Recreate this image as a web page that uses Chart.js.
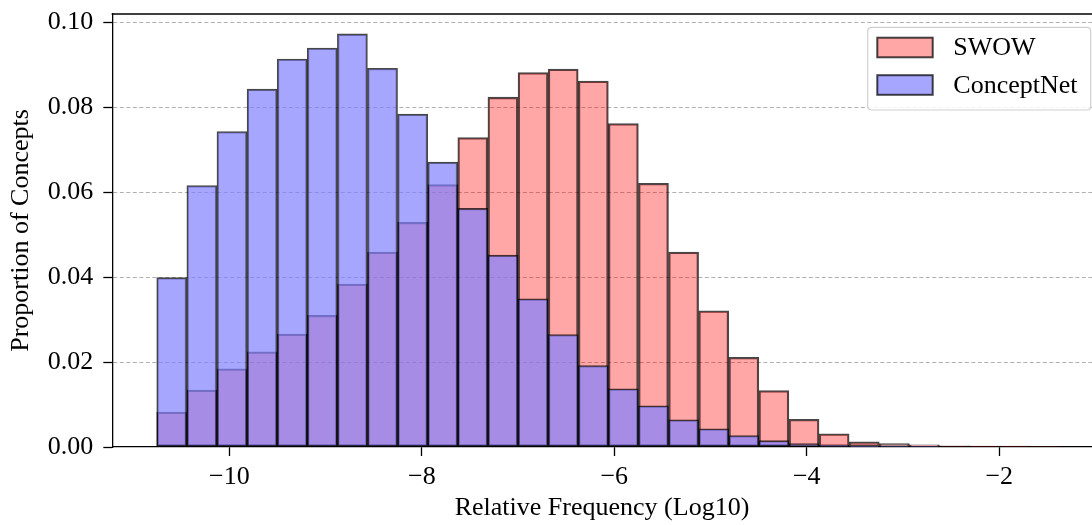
<!DOCTYPE html>
<html>
<head>
<meta charset="utf-8">
<script src="https://cdn.jsdelivr.net/npm/chart.js@4.4.1/dist/chart.umd.min.js"></script>
<style>
  html, body { margin: 0; padding: 0; background: #ffffff; overflow: hidden; }
  #wrap { width: 1092px; height: 525px; overflow: hidden; }
  canvas { display: block; }
</style>
</head>
<body>
<div id="wrap"><canvas id="hist" width="1110" height="525"></canvas></div>
<script>
// Bin centres of the 30 shared histogram bins (log10 relative frequency)
const binCenters = [
  -10.598, -10.285, -9.972, -9.659, -9.346, -9.034, -8.721, -8.408, -8.095, -7.782,
  -7.470, -7.157, -6.844, -6.531, -6.218, -5.906, -5.593, -5.280, -4.967, -4.654,
  -4.342, -4.029, -3.716, -3.403, -3.090, -2.778, -2.465, -2.152, -1.839, -1.526
];

// Proportion of concepts in each bin
const swowValues = [
  0.0082, 0.0134, 0.0184, 0.0224, 0.0266, 0.0310, 0.0384, 0.0459, 0.0529, 0.0618,
  0.0729, 0.0824, 0.0882, 0.0890, 0.0862, 0.0762, 0.0621, 0.0459, 0.0321, 0.0211,
  0.0133, 0.0065, 0.0031, 0.0012, 0.0008, 0.0005, 0.0003, 0.0002, 0.0002, 0.0001
];
const conceptNetValues = [
  0.0399, 0.0616, 0.0743, 0.0843, 0.0914, 0.0940, 0.0973, 0.0892, 0.0784, 0.0671,
  0.0562, 0.0452, 0.0349, 0.0265, 0.0192, 0.0137, 0.0097, 0.0064, 0.0043, 0.0027,
  0.0015, 0.0008, 0.0004, 0.0002, 0.0001, 0.0001, 0, 0, 0, 0
];

const seriesLabels = ['SWOW', 'ConceptNet'];
const xTickValues = [-10, -8, -6, -4, -2];
const yTickValues = [0, 0.02, 0.04, 0.06, 0.08, 0.10];
const xTitle = 'Relative Frequency (Log10)';

const FONT = "'Liberation Serif', 'Times New Roman', 'DejaVu Serif', serif";
Chart.defaults.font.family = FONT;
Chart.defaults.color = '#000000';

const toPoints = (vals) => vals.map((v, i) => ({ x: binCenters[i], y: v }));
const minus = (v) => (v < 0 ? '\u2212' + Math.abs(v) : String(v));

// Top spine of the axes frame and the x-axis caption below the tick labels
const frameExtras = {
  id: 'frameExtras',
  afterDraw(chart) {
    const { ctx, chartArea } = chart;
    ctx.save();
    ctx.strokeStyle = '#000000';
    ctx.lineWidth = 1.3;
    ctx.beginPath();
    ctx.moveTo(chartArea.left - 0.65, chartArea.top);
    ctx.lineTo(chartArea.right, chartArea.top);
    ctx.stroke();

    ctx.fillStyle = '#000000';
    ctx.font = '26px ' + FONT;
    ctx.textAlign = 'center';
    ctx.textBaseline = 'alphabetic';
    ctx.fillText(xTitle, 602, 515);
    ctx.restore();
  }
};

// Boxed legend in the upper right corner of the plot
const boxLegend = {
  id: 'boxLegend',
  afterDraw(chart) {
    const { ctx } = chart;
    const bx = 867.7, by = 27.3, bw = 223, bh = 82.7, r = 4;
    ctx.save();
    ctx.beginPath();
    ctx.moveTo(bx + r, by);
    ctx.lineTo(bx + bw - r, by);
    ctx.quadraticCurveTo(bx + bw, by, bx + bw, by + r);
    ctx.lineTo(bx + bw, by + bh - r);
    ctx.quadraticCurveTo(bx + bw, by + bh, bx + bw - r, by + bh);
    ctx.lineTo(bx + r, by + bh);
    ctx.quadraticCurveTo(bx, by + bh, bx, by + bh - r);
    ctx.lineTo(bx, by + r);
    ctx.quadraticCurveTo(bx, by, bx + r, by);
    ctx.closePath();
    ctx.fillStyle = 'rgba(255,255,255,0.85)';
    ctx.fill();
    ctx.strokeStyle = '#d0d0d0';
    ctx.lineWidth = 1.2;
    ctx.stroke();

    const rows = [47.5, 85];
    chart.data.datasets.forEach((ds, i) => {
      const cy = rows[i];
      ctx.fillStyle = '#ffffff';
      ctx.fillRect(877.3, cy - 9.8, 55.4, 19.6);
      ctx.fillStyle = ds.backgroundColor;
      ctx.fillRect(877.3, cy - 9.8, 55.4, 19.6);
      ctx.strokeStyle = ds.borderColor;
      ctx.lineWidth = 2;
      ctx.strokeRect(877.3, cy - 9.8, 55.4, 19.6);
      ctx.fillStyle = '#000000';
      ctx.font = '26px ' + FONT;
      ctx.textAlign = 'left';
      ctx.textBaseline = 'middle';
      ctx.fillText(ds.label, 953.3, cy + 1);
    });
    ctx.restore();
  }
};

new Chart(document.getElementById('hist'), {
  type: 'bar',
  data: {
    datasets: [
      {
        label: seriesLabels[0],
        data: toPoints(swowValues),
        backgroundColor: 'rgba(255,0,0,0.35)',
        borderColor: 'rgba(0,0,0,0.72)',
        borderWidth: 1.6,
        borderSkipped: false,
        order: 2
      },
      {
        label: seriesLabels[1],
        data: toPoints(conceptNetValues),
        backgroundColor: 'rgba(128,128,255,0.7)',
        borderColor: 'rgba(0,0,0,0.72)',
        borderWidth: 1.6,
        borderSkipped: false,
        order: 1
      }
    ]
  },
  options: {
    responsive: false,
    animation: false,
    devicePixelRatio: 1,
    grouped: false,
    barPercentage: 1,
    categoryPercentage: 1,
    layout: { padding: { top: 14, right: 5, bottom: 0, left: 0 } },
    plugins: {
      legend: { display: false },
      tooltip: { enabled: false }
    },
    scales: {
      x: {
        type: 'linear',
        min: -11.2156,
        max: -0.9016,
        offset: false,
        z: 1,
        afterBuildTicks(scale) {
          scale.ticks = xTickValues.map(v => ({ value: v }));
        },
        afterFit(scale) {
          scale.height = 78;
          scale.paddingLeft = 0;
          scale.paddingRight = 0;
        },
        ticks: {
          font: { size: 26, lineHeight: 1.2 },
          color: '#000000',
          padding: 6,
          maxRotation: 0,
          autoSkip: false,
          callback: (v) => minus(v)
        },
        grid: {
          offset: false,
          drawOnChartArea: false,
          drawTicks: true,
          tickLength: 9,
          tickColor: '#000000',
          tickWidth: 1.3
        },
        border: { display: true, color: '#000000', width: 1.3 },
        title: { display: false }
      },
      y: {
        type: 'linear',
        min: 0,
        max: 0.102,
        z: 1,
        afterBuildTicks(scale) {
          scale.ticks = yTickValues.map(v => ({ value: v }));
        },
        afterFit(scale) {
          scale.width = 112.3;
          scale.paddingTop = 0;
          scale.paddingBottom = 0;
        },
        ticks: {
          font: { size: 26, lineHeight: 1.2 },
          color: '#000000',
          padding: 10,
          callback: (v) => Number(v).toFixed(2)
        },
        grid: {
          drawOnChartArea: true,
          drawTicks: true,
          tickLength: 9,
          color: (ctx) => (ctx.tick && ctx.tick.value === 0 ? 'rgba(0,0,0,0)' : '#b0b0b0'),
          lineWidth: 1,
          tickColor: '#000000',
          tickWidth: 1.3,
          tickBorderDash: []
        },
        border: { display: true, color: '#000000', width: 1.3, dash: [4, 2.5] },
        title: {
          display: true,
          text: 'Proportion of Concepts',
          font: { size: 26, lineHeight: 1.2 },
          color: '#000000',
          padding: { top: 6, bottom: 0 }
        }
      }
    }
  },
  plugins: [frameExtras, boxLegend]
});
</script>
</body>
</html>
